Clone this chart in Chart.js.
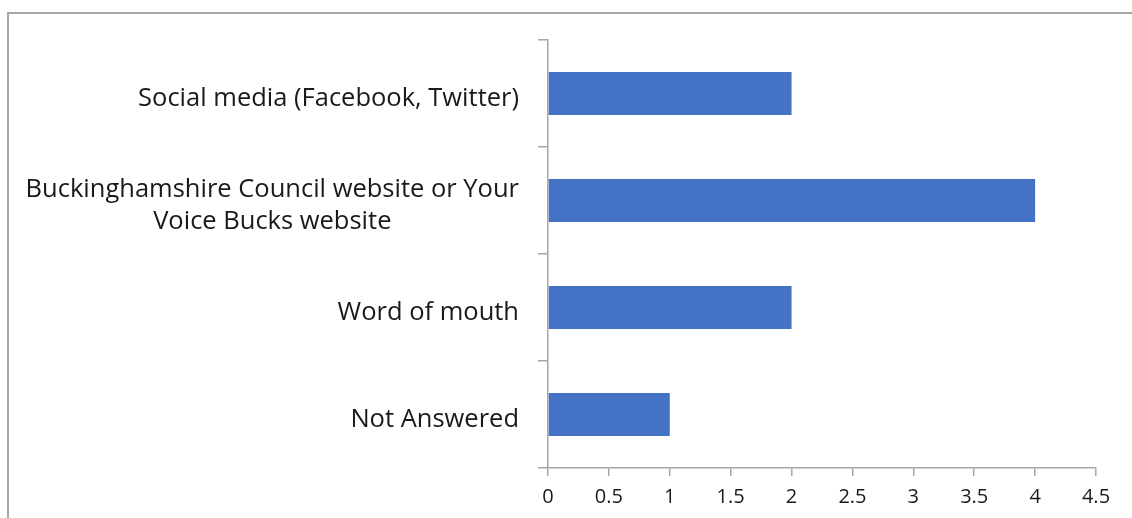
<!DOCTYPE html>
<html>
<head>
<meta charset="utf-8">
<script src="https://cdn.jsdelivr.net/npm/chart.js@4/dist/chart.umd.min.js"></script>
<style>
  body { margin: 0; background: #fff; }
  #frame { position: absolute; left: 7px; top: 12px; width: 1200px; height: 600px; border: 2px solid #a6a6a6; }
  #wrap { position: absolute; left: 0; top: 0; width: 1132px; height: 518px; }
</style>
</head>
<body>
<div id="frame"></div>
<div id="wrap"><canvas id="chart" width="1132" height="518"></canvas></div>
<script>
const categories = [
  ['Social media (Facebook, Twitter)'],
  ['Buckinghamshire Council website or Your', 'Voice Bucks website'],
  ['Word of mouth'],
  ['Not Answered']
];
const counts = [2, 4, 2, 1];
const xTicks = [0, 0.5, 1, 1.5, 2, 2.5, 3, 3.5, 4, 4.5];

const axisGrey = '#a6a6a6';
const textColor = '#1a1a1a';
const labelFont = '25.5px "Open Sans"';

// Excel-style category labels: block right-aligned, lines centred inside the block
const categoryLabels = {
  id: 'categoryLabels',
  afterDraw(chart) {
    const c = chart.ctx;
    const y = chart.scales.y;
    const right = 519;
    const lineH = 32;
    c.save();
    c.font = labelFont;
    c.fillStyle = textColor;
    c.textAlign = 'center';
    c.textBaseline = 'middle';
    categories.forEach((lines, i) => {
      const widths = lines.map(l => c.measureText(l).width);
      const block = Math.max(...widths);
      const cx = right - block / 2;
      const cy = y.getPixelForValue(i) + 5;
      lines.forEach((l, j) => {
        c.fillText(l, cx, cy + (j - (lines.length - 1) / 2) * lineH);
      });
    });
    c.restore();
  }
};

new Chart(document.getElementById('chart'), {
  type: 'bar',
  data: {
    labels: categories.map(l => l.join(' ')),
    datasets: [{
      data: counts,
      backgroundColor: '#4472C4',
      categoryPercentage: 1,
      barPercentage: 0.4
    }]
  },
  options: {
    indexAxis: 'y',
    responsive: false,
    animation: false,
    layout: { padding: { top: 40, right: 36, bottom: 0, left: 0 } },
    plugins: { legend: { display: false }, tooltip: { enabled: false } },
    scales: {
      x: {
        min: 0,
        max: 4.5,
        afterBuildTicks: (s) => { s.ticks = xTicks.map(v => ({ value: v })); },
        grid: { drawOnChartArea: false, color: axisGrey, tickLength: 8, lineWidth: 1.5 },
        border: { color: axisGrey, width: 1.5 },
        ticks: {
          color: textColor,
          font: { family: 'Open Sans', size: 20 },
          padding: 9,
          maxRotation: 0,
          callback: (v) => String(v)
        }
      },
      y: {
        offset: true,
        afterFit: (s) => { s.width = 548; },
        grid: { drawOnChartArea: false, offset: true, color: axisGrey, tickLength: 10, lineWidth: 1.5 },
        border: { color: axisGrey, width: 1.5 },
        ticks: { display: false }
      }
    }
  },
  plugins: [categoryLabels]
});
</script>
</body>
</html>
